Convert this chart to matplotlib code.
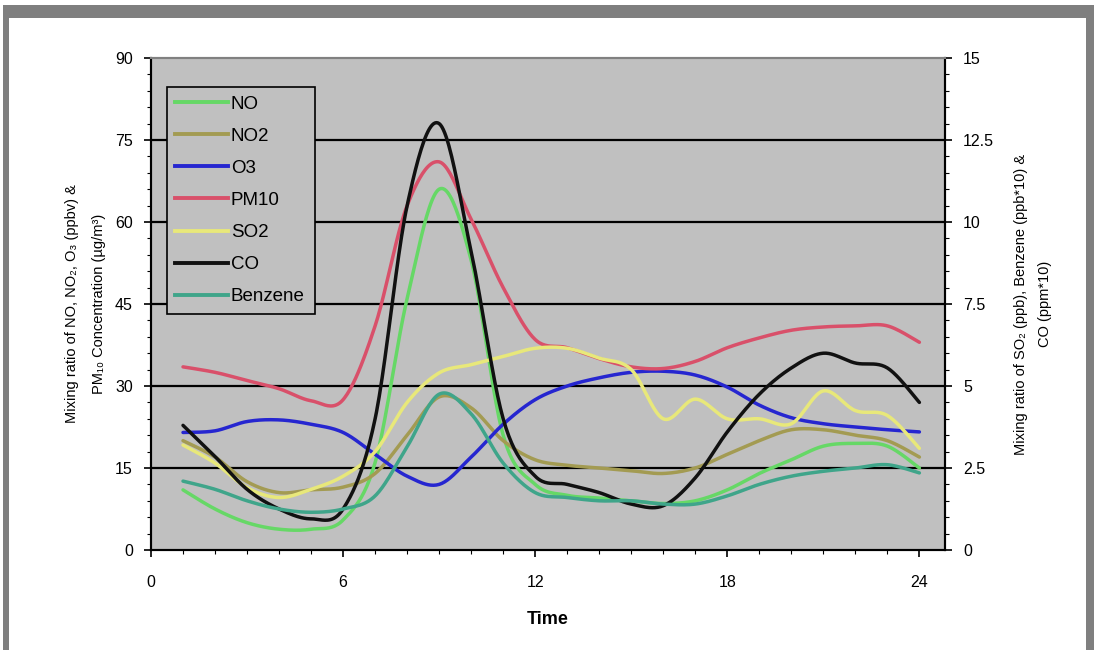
import numpy as np
import matplotlib
matplotlib.use("Agg")
import matplotlib.pyplot as plt
from matplotlib.patches import Rectangle
from matplotlib.lines import Line2D
from matplotlib.ticker import MultipleLocator, FormatStrFormatter

plt.rcParams['font.family'] = ['Liberation Sans', 'DejaVu Sans']

# hourly values, hour 1..24
hours = list(range(1, 25))

# left axis: ppbv / ug m-3
no = [11, 7.5, 5, 3.8, 3.8, 5.5, 16, 46, 66, 53, 21, 12,
      10, 9.5, 9, 8.5, 9, 11, 14, 16.5, 19, 19.5, 19, 15]
no2 = [20, 17, 12.5, 10.5, 11, 11.5, 14, 21, 28, 26, 20, 16.5,
       15.5, 15, 14.5, 14, 15, 17.5, 20, 22, 22, 21, 20, 17]
o3 = [21.5, 21.8, 23.5, 23.8, 23, 21.5, 17.5, 13.5, 12, 17, 23, 27.5,
      30, 31.5, 32.5, 32.7, 32, 29.8, 26.5, 24.2, 23.1, 22.5, 22, 21.6]
pm10 = [33.5, 32.5, 31, 29.5, 27.3, 27.5, 41, 63, 71, 60.5, 48, 38.5,
        37, 35, 33.5, 33.2, 34.5, 37, 38.8, 40.2, 40.8, 41, 41, 38]

# right axis: ppb, ppb*10, ppm*10
so2 = [3.2, 2.65, 1.9, 1.6, 1.85, 2.25, 3.0, 4.5, 5.4, 5.65, 5.9, 6.15,
       6.15, 5.85, 5.5, 4.0, 4.6, 4.0, 4.0, 3.85, 4.85, 4.25, 4.1, 3.1]
co = [3.8, 2.85, 1.85, 1.25, 0.95, 1.25, 4.0, 10.5, 13.0, 9.1, 4.0, 2.25,
      2.0, 1.75, 1.4, 1.35, 2.2, 3.6, 4.75, 5.55, 6.0, 5.7, 5.55, 4.5]
benzene = [2.1, 1.85, 1.5, 1.25, 1.15, 1.25, 1.65, 3.15, 4.75, 4.15, 2.65, 1.75,
           1.6, 1.5, 1.5, 1.4, 1.4, 1.65, 2.0, 2.25, 2.4, 2.5, 2.6, 2.35]

left_series = [('NO', no, '#66d866'), ('NO2', no2, '#a39b52'),
               ('O3', o3, '#2626d0'), ('PM10', pm10, '#d9506a')]
right_series = [('SO2', so2, '#e8e87a'), ('CO', co, '#111111'),
                ('Benzene', benzene, '#3fa58a')]


def smooth(x, y, n=24):
    # bezier smoothing like a spreadsheet "smoothed line"
    p = np.column_stack([x, y]).astype(float)
    out = [p[:1]]
    t = np.linspace(0, 1, n)[1:, None]
    for i in range(len(p) - 1):
        p0 = p[i - 1] if i > 0 else p[i]
        p1, p2 = p[i], p[i + 1]
        p3 = p[i + 2] if i + 2 < len(p) else p[i + 1]
        c1 = p1 + (p2 - p0) / 6
        c2 = p2 - (p3 - p1) / 6
        seg = ((1 - t) ** 3 * p1 + 3 * (1 - t) ** 2 * t * c1
               + 3 * (1 - t) * t ** 2 * c2 + t ** 3 * p2)
        out.append(seg)
    s = np.vstack(out)
    return s[:, 0], s[:, 1]


W, H = 1094, 650
fig = plt.figure(figsize=(W / 100, H / 100), dpi=100)

# grey frame round the chart
fig.add_artist(Rectangle((3 / W, 0), 1 - 3 / W, 1 - 5 / H, transform=fig.transFigure,
                         facecolor='#7f7f7f', edgecolor='none', zorder=-10))
fig.add_artist(Rectangle((9 / W, 0), (1086 - 9) / W, 1 - 18 / H, transform=fig.transFigure,
                         facecolor='white', edgecolor='none', zorder=-9))

ax = fig.add_axes([151 / W, 100 / H, 794 / W, 492 / H])
ax.set_facecolor('#c0c0c0')
ax2 = ax.twinx()

handles = []
for name, vals, col in left_series:
    sx, sy = smooth(hours, vals)
    ax.plot(sx, sy, color=col, lw=2.5, solid_capstyle='round')
    handles.append(Line2D([], [], color=col, lw=2.8, label=name))
for name, vals, col in right_series:
    sx, sy = smooth(hours, vals)
    ax2.plot(sx, sy, color=col, lw=2.5, solid_capstyle='round')
    handles.append(Line2D([], [], color=col, lw=2.8, label=name))

ax.set_xlim(0, 24.8)
ax.set_ylim(0, 90)
ax2.set_ylim(0, 15)
ax.xaxis.set_major_locator(MultipleLocator(6))
ax.xaxis.set_minor_locator(MultipleLocator(1))
ax.yaxis.set_major_locator(MultipleLocator(15))
ax.yaxis.set_minor_locator(MultipleLocator(3))
ax2.yaxis.set_major_locator(MultipleLocator(2.5))
ax2.yaxis.set_minor_locator(MultipleLocator(0.5))
ax2.yaxis.set_major_formatter(FormatStrFormatter('%g'))

for yv in (15, 30, 45, 60, 75):
    ax.axhline(yv, color='black', lw=1.6, zorder=0.5)

for a in (ax, ax2):
    a.tick_params(which='major', length=5, width=1.2, labelsize=11.5, direction='out')
    a.tick_params(which='minor', length=3, width=0.8, direction='out')
    for sp in a.spines.values():
        sp.set_linewidth(1.5)
    a.spines['top'].set_color('#808080')
ax.tick_params(axis='x', which='major', pad=13)
ax.tick_params(axis='y', which='major', pad=8)
ax2.tick_params(axis='y', which='major', pad=8)

ax.set_xlabel('Time', fontsize=13, fontweight='bold', labelpad=15)

yc = 1 - 304 / H
fig.text(72 / W, yc, 'Mixing ratio of NO, NO₂, O₃ (ppbv) &', rotation=90,
         ha='center', va='center', fontsize=10.5)
fig.text(99 / W, yc, 'PM₁₀ Concentration (µg/m³)', rotation=90,
         ha='center', va='center', fontsize=10.5)
fig.text(1021 / W, yc, 'Mixing ratio of SO₂ (ppb), Benzene (ppb*10) &', rotation=90,
         ha='center', va='center', fontsize=10.5)
fig.text(1045 / W, yc, 'CO (ppm*10)', rotation=90,
         ha='center', va='center', fontsize=10.5)

leg = ax2.legend(handles=handles, loc='upper left',
                 bbox_to_anchor=(16 / 794, 0.5, 148 / 794, 1 - 29 / 492 - 0.5),
                 mode='expand', fontsize=13.5, handlelength=2.8, handletextpad=0.15,
                 labelspacing=0.8, borderpad=0.45, borderaxespad=0,
                 fancybox=False, framealpha=1, facecolor='#c0c0c0', edgecolor='black')
leg.get_frame().set_linewidth(1.2)

fig.savefig('out.png', dpi=100)
